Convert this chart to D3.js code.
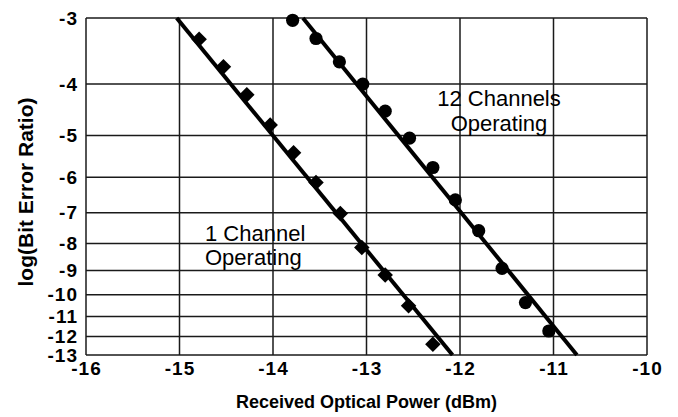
<!DOCTYPE html>
<html>
<head>
<meta charset="utf-8">
<script src="https://cdn.jsdelivr.net/npm/d3@7"></script>
<style>
  html, body { margin: 0; padding: 0; background: #fff; }
  svg { display: block; }
  text { font-family: "Liberation Sans", Arial, Helvetica, sans-serif; fill: #000; }
</style>
</head>
<body>
<svg id="chart" width="678" height="417"></svg>
<script>
// Axis ticks
const powerTicks = [-16, -15, -14, -13, -12, -11, -10];
const logBerTicks = [-3, -4, -5, -6, -7, -8, -9, -10, -11, -12, -13];

// Measured BER, one channel operating
const oneChPower  = [-14.79, -14.53, -14.28, -14.03, -13.78, -13.54, -13.28, -13.05, -12.80, -12.55, -12.29];
const oneChLogBer = [-3.29, -3.71, -4.19, -4.78, -5.39, -6.14, -7.02, -8.14, -9.18, -10.49, -12.41];

// Measured BER, twelve channels operating
const twelveChPower  = [-13.79, -13.54, -13.29, -13.04, -12.80, -12.54, -12.29, -12.05, -11.80, -11.55, -11.30, -11.05];
const twelveChLogBer = [-3.03, -3.28, -3.63, -4.00, -4.50, -5.06, -5.75, -6.62, -7.57, -8.92, -10.35, -11.71];

// Fitted trend lines (end points)
const oneChFitPower  = [-15.03, -12.08];
const oneChFitLogBer = [-3, -13];
const twelveChFitPower  = [-13.68, -10.75];
const twelveChFitLogBer = [-3, -13];

const svg = d3.select("#chart");

const x = d3.scaleLinear().domain([-16, -10]).range([86, 647]);
// log(-log BER) spacing: a log scale over the negative exponents
const y = d3.scaleLog().domain([-3, -13]).range([18, 355]);

const gridColor = "#1a1a1a";

// Gridlines
svg.append("g").selectAll("line.h").data(logBerTicks).join("line")
  .attr("x1", x(-16)).attr("x2", x(-10))
  .attr("y1", d => y(d)).attr("y2", d => y(d))
  .attr("stroke", gridColor).attr("stroke-width", 1.5);
svg.append("g").selectAll("line.v").data(powerTicks).join("line")
  .attr("x1", d => x(d)).attr("x2", d => x(d))
  .attr("y1", y(-3)).attr("y2", y(-13))
  .attr("stroke", gridColor).attr("stroke-width", 1.5);

// Axes (labels only; frame is drawn by the gridlines)
const yAxis = svg.append("g").attr("transform", `translate(${x(-16)},0)`)
  .call(d3.axisLeft(y).tickValues(logBerTicks).tickFormat(d => String(d)).tickSize(0).tickPadding(8));
const xAxis = svg.append("g").attr("transform", `translate(0,${y(-13)})`)
  .call(d3.axisBottom(x).tickValues(powerTicks).tickFormat(d => String(d)).tickSize(0).tickPadding(7));
[yAxis, xAxis].forEach(g => {
  g.select(".domain").remove();
  g.selectAll("text")
    .attr("fill", "#000")
    .style("font-family", '"Liberation Sans", Arial, sans-serif')
    .style("font-size", "19px")
    .style("font-weight", "bold")
    .style("letter-spacing", "1px");
});

// Fitted lines
const line = d3.line().x(d => x(d[0])).y(d => y(d[1]));
svg.append("path").datum(d3.zip(oneChFitPower, oneChFitLogBer))
  .attr("d", line).attr("fill", "none").attr("stroke", "#000").attr("stroke-width", 4);
svg.append("path").datum(d3.zip(twelveChFitPower, twelveChFitLogBer))
  .attr("d", line).attr("fill", "none").attr("stroke", "#000").attr("stroke-width", 4);

// Markers
svg.append("g").selectAll("path").data(d3.zip(oneChPower, oneChLogBer)).join("path")
  .attr("d", d3.symbol(d3.symbolSquare, 120))
  .attr("transform", d => `translate(${x(d[0])},${y(d[1])}) rotate(45)`)
  .attr("fill", "#000");
svg.append("g").selectAll("circle").data(d3.zip(twelveChPower, twelveChLogBer)).join("circle")
  .attr("cx", d => x(d[0])).attr("cy", d => y(d[1])).attr("r", 6.6)
  .attr("fill", "#000");

// Series annotations
const note = svg.append("g").style("font-size", "22px");
note.append("text").attr("x", 499).attr("y", 106).attr("text-anchor", "middle").text("12 Channels");
note.append("text").attr("x", 499).attr("y", 131).attr("text-anchor", "middle").text("Operating");
note.append("text").attr("x", 205).attr("y", 241).text("1 Channel");
note.append("text").attr("x", 205).attr("y", 265).text("Operating");

// Axis titles
svg.append("text")
  .attr("x", (x(-16) + x(-10)) / 2).attr("y", 408)
  .attr("text-anchor", "middle")
  .style("font-size", "18px").style("font-weight", "bold")
  .text("Received Optical Power (dBm)");
svg.append("text")
  .attr("transform", `translate(33,192) rotate(-90)`)
  .attr("text-anchor", "middle")
  .style("font-size", "21px").style("font-weight", "bold")
  .text("log(Bit Error Ratio)");
</script>
</body>
</html>
